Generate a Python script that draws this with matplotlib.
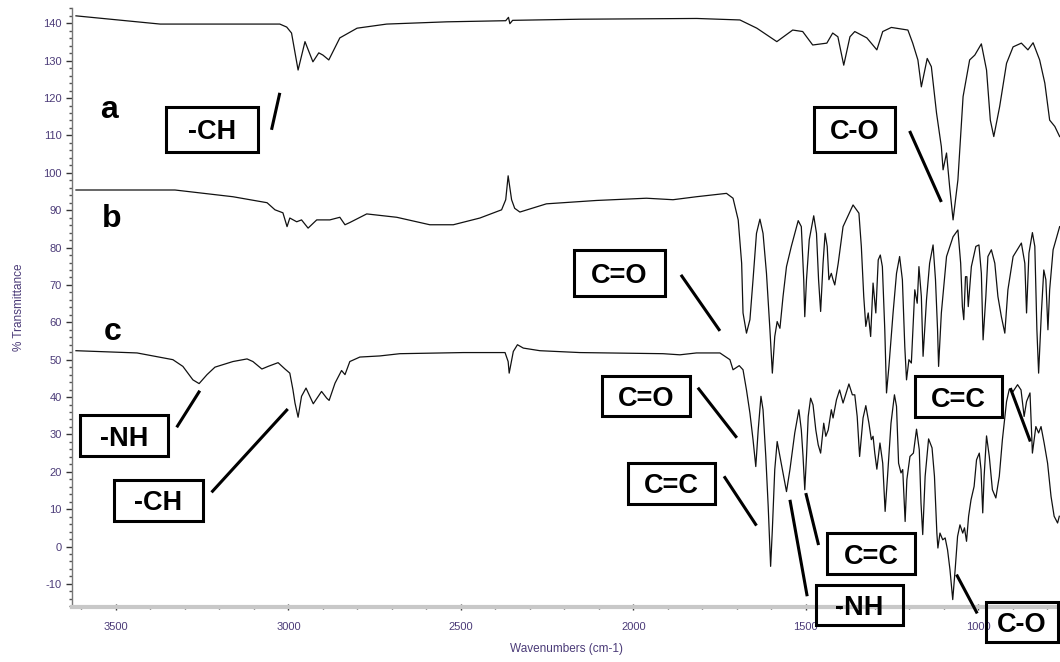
import matplotlib
matplotlib.use("Agg")
import matplotlib.pyplot as plt
from matplotlib.patches import Rectangle
from matplotlib.ticker import MultipleLocator

plt.rcParams['font.family'] = ['Liberation Sans', 'DejaVu Sans']
plt.rcParams['axes.unicode_minus'] = False

# spectrum a (top)
wn_a = [3616, 3372, 3025, 3005, 2991, 2972, 2952, 2929, 2912, 2900,
        2883, 2851, 2801, 2715, 2541, 2370, 2362, 2358, 2350, 2155,
        1816, 1691, 1642, 1584, 1538, 1509, 1480, 1439, 1422, 1407,
        1390, 1372, 1358, 1323, 1294, 1277, 1252, 1204, 1190, 1175,
        1165, 1148, 1136, 1121, 1107, 1102, 1092, 1083, 1073, 1059,
        1044, 1025, 1010, 991, 976, 965, 955, 938, 918, 899,
        875, 856, 841, 822, 807, 793, 778, 764]
t_a = [142.0, 139.8, 139.8, 139.0, 137.4, 127.5, 135.1, 129.7, 132.1, 131.5,
       130.2, 136.1, 138.7, 139.8, 140.4, 140.7, 141.6, 139.9, 140.8, 141.1,
       141.3, 140.9, 138.7, 135.1, 138.2, 137.8, 134.2, 134.7, 137.4, 136.4,
       128.8, 136.4, 137.8, 136.1, 132.9, 137.8, 138.9, 138.2, 134.7, 130.2,
       123.0, 130.6, 128.4, 116.0, 107.0, 100.8, 105.3, 96.3, 87.4, 98.1,
       120.4, 130.2, 131.5, 134.5, 127.5, 114.1, 109.7, 117.7, 129.3, 133.7,
       134.7, 132.9, 134.8, 130.2, 124.0, 114.1, 112.4, 109.7]

# spectrum b (middle)
wn_b = [3616, 3329, 3161, 3062, 3039, 3016, 3004, 2996, 2976, 2962,
        2943, 2918, 2880, 2851, 2836, 2822, 2773, 2686, 2590, 2522,
        2445, 2382, 2370, 2363, 2353, 2344, 2329, 2252, 2107, 1962,
        1885, 1817, 1730, 1711, 1696, 1686, 1682, 1672, 1662, 1653,
        1643, 1633, 1624, 1614, 1604, 1597, 1590, 1583, 1575, 1566,
        1556, 1542, 1522, 1513, 1506, 1503, 1498, 1490, 1477, 1469,
        1463, 1457, 1450, 1444, 1438, 1433, 1426, 1421, 1416, 1406,
        1392, 1363, 1346, 1339, 1332, 1326, 1319, 1312, 1305, 1297,
        1290, 1284, 1278, 1271, 1266, 1259, 1247, 1237, 1228, 1220,
        1213, 1208, 1201, 1194, 1184, 1177, 1172, 1165, 1160, 1150,
        1141, 1131, 1124, 1118, 1115, 1107, 1092, 1073, 1059, 1051,
        1046, 1042, 1037, 1033, 1029, 1020, 1007, 998, 991, 986,
        978, 972, 962, 952, 943, 933, 923, 914, 899, 875,
        865, 860, 853, 843, 836, 830, 825, 817, 810, 804,
        798, 793, 783, 764]
t_b = [95.4, 95.4, 93.6, 92.0, 90.1, 89.3, 85.6, 87.9, 86.9, 87.4,
       85.2, 87.4, 87.4, 88.1, 86.1, 86.7, 89.0, 88.1, 86.1, 86.1,
       87.9, 90.1, 92.8, 99.2, 92.8, 90.5, 89.5, 91.7, 92.6, 93.2,
       92.8, 93.6, 94.5, 93.2, 87.4, 75.8, 62.5, 57.1, 60.7, 71.4,
       83.8, 87.6, 83.8, 73.1, 58.0, 46.4, 56.2, 60.2, 58.4, 66.9,
       74.9, 80.3, 87.2, 85.6, 71.4, 61.5, 71.4, 82.1, 88.5, 83.8,
       71.4, 62.9, 75.8, 83.8, 80.3, 71.4, 73.1, 71.4, 70.0, 75.8,
       85.6, 91.4, 89.2, 80.3, 66.9, 58.9, 62.5, 56.2, 70.5, 62.5,
       76.7, 78.0, 74.9, 58.0, 41.1, 48.2, 62.5, 73.1, 77.6, 71.4,
       53.5, 44.6, 50.0, 49.1, 68.7, 65.1, 74.9, 66.9, 50.9, 66.1,
       75.8, 80.7, 71.4, 58.0, 48.2, 62.5, 77.6, 82.9, 84.7, 75.8,
       64.2, 60.7, 72.2, 72.2, 64.2, 74.9, 80.3, 80.7, 73.1, 55.3,
       66.9, 77.6, 79.4, 75.8, 66.9, 61.5, 57.1, 68.7, 77.6, 81.2,
       75.8, 62.5, 78.5, 84.0, 80.3, 58.0, 46.4, 62.5, 74.0, 71.4,
       58.0, 68.7, 79.4, 85.6]

# spectrum c (bottom)
wn_c = [3616, 3439, 3335, 3306, 3277, 3259, 3236, 3213, 3161, 3120,
        3103, 3077, 3059, 3030, 3010, 2996, 2987, 2981, 2972, 2962,
        2949, 2928, 2904, 2889, 2882, 2865, 2846, 2836, 2822, 2793,
        2735, 2677, 2493, 2372, 2363, 2360, 2348, 2336, 2319, 2271,
        2155, 1914, 1865, 1817, 1749, 1720, 1711, 1693, 1682, 1672,
        1662, 1653, 1645, 1638, 1630, 1624, 1616, 1609, 1602, 1597,
        1590, 1583, 1575, 1568, 1556, 1546, 1532, 1520, 1513, 1508,
        1503, 1498, 1493, 1486, 1479, 1471, 1464, 1457, 1448, 1442,
        1435, 1426, 1421, 1411, 1402, 1392, 1375, 1365, 1358, 1351,
        1344, 1334, 1326, 1317, 1310, 1305, 1300, 1294, 1285, 1277,
        1270, 1263, 1253, 1243, 1237, 1231, 1224, 1219, 1212, 1207,
        1198, 1188, 1179, 1171, 1166, 1161, 1154, 1144, 1134, 1127,
        1120, 1117, 1111, 1103, 1096, 1089, 1082, 1074, 1067, 1060,
        1053, 1045, 1040, 1034, 1028, 1021, 1012, 1005, 997, 992,
        987, 983, 976, 968, 959, 949, 939, 930, 918, 910,
        899, 886, 876, 867, 860, 850, 843, 833, 825, 818,
        809, 799, 789, 780, 770, 765]
t_c = [52.4, 51.8, 50.0, 48.2, 44.6, 43.6, 46.0, 48.0, 49.5, 50.2,
       49.5, 47.5, 48.2, 49.2, 47.5, 46.4, 42.0, 38.4, 34.6, 40.2,
       42.4, 38.2, 41.5, 39.7, 39.1, 43.7, 47.1, 46.0, 49.5, 50.7,
       51.0, 51.6, 51.9, 51.9, 49.5, 46.4, 52.2, 54.0, 53.1, 52.4,
       51.9, 51.6, 51.3, 51.8, 51.8, 50.0, 47.3, 48.4, 47.3, 41.9,
       35.7, 28.6, 21.4, 31.2, 40.2, 36.6, 24.1, 10.7, -5.3, 4.5,
       20.6, 28.1, 24.1, 20.6, 14.7, 20.6, 30.4, 36.6, 31.2, 24.1,
       15.2, 24.1, 34.8, 39.7, 37.9, 31.2, 27.2, 25.0, 33.0, 29.5,
       31.2, 36.6, 34.4, 39.3, 41.9, 38.4, 43.5, 40.6, 40.6, 34.8,
       24.1, 34.4, 37.7, 33.0, 28.6, 29.5, 25.0, 20.7, 27.7, 22.3,
       9.4, 18.8, 33.0, 40.6, 37.5, 22.3, 19.7, 20.6, 6.7, 17.9,
       24.1, 25.0, 31.4, 25.9, 11.6, 3.2, 18.8, 28.8, 26.4, 18.8,
       3.6, -0.4, 3.6, 1.8, 2.3, -0.9, -6.2, -14.2, -6.2, 2.7,
       5.8, 3.6, 5.0, 1.4, 8.1, 12.5, 16.1, 23.2, 25.0, 20.6,
       9.0, 18.8, 29.6, 24.1, 15.2, 13.0, 18.8, 28.6, 38.8, 42.1,
       41.5, 43.3, 41.9, 34.8, 38.8, 41.1, 25.0, 32.1, 30.4, 32.1,
       27.7, 22.3, 13.4, 8.1, 6.3, 8.1]

sample_names = ['a', 'b', 'c']
band_names = ['-CH', 'C-O', 'C=O', 'C=O', 'C=C', 'C=C', '-NH', 'C-O', 'C=C', '-NH', '-CH']

tick_color = '#4b3b78'

fig = plt.figure(figsize=(10.6, 6.62), dpi=100)
ax = fig.add_axes([72 / 1060, 55.3 / 662, 1 - 72 / 1060, 598.7 / 662])

for x, y in [(wn_a, t_a), (wn_b, t_b), (wn_c, t_c)]:
    ax.plot(x, y, color='#111111', lw=0.9)

ax.set_xlim(3627.5, 763)
ax.set_ylim(-16.1, 144.1)

ax.xaxis.set_major_locator(MultipleLocator(500))
ax.xaxis.set_minor_locator(MultipleLocator(100))
ax.yaxis.set_major_locator(MultipleLocator(10))
ax.yaxis.set_minor_locator(MultipleLocator(2))
ax.tick_params(axis='both', which='major', labelsize=8, labelcolor=tick_color,
               color='#333333', length=4, width=1)
ax.tick_params(axis='x', which='both', direction='inout', pad=9)
ax.tick_params(axis='y', which='minor', length=2, width=1, color='#555555')
ax.tick_params(axis='x', which='minor', length=3, width=1, color='#333333')

for s in ['top', 'right']:
    ax.spines[s].set_visible(False)
ax.spines['left'].set_color('#777777')
ax.spines['left'].set_linewidth(1)
ax.spines['bottom'].set_color('#c8c8c8')
ax.spines['bottom'].set_linewidth(3)

ax.set_xlabel('Wavenumbers (cm-1)', fontsize=8.5, color=tick_color, labelpad=8)
ax.set_ylabel('% Transmittance', fontsize=8.5, color=tick_color, labelpad=13)

# sample letters
for name, (x, y) in zip(sample_names, [(3546, 114.7), (3540, 85.6), (3536, 55.3)]):
    ax.text(x, y, name, fontsize=23, fontweight='bold', ha='left', va='baseline')

# boxed band labels: centre (wn, %T), box size, leader line
boxes = [
    ((3222, 111.6), (267, 12.0), ((3049, 111.5), (3025, 121.4))),
    ((1359, 111.6), (235, 12.0), ((1199, 111.2), (1107, 92.2))),
    ((2040, 73.3), (264, 12.3), ((1862, 72.7), (1749, 57.7))),
    ((1964, 40.4), (255, 10.7), ((1813, 42.5), (1700, 29.1))),
    ((1890, 16.9), (252, 10.8), ((1737, 18.8), (1643, 5.6))),
    ((1310, -1.9), (256, 10.9), ((1500, 14.3), (1463, 0.4))),
    ((1345, -15.6), (253, 10.7), ((1546, 12.5), (1496, -13.3))),
    ((873, -20.1), (207, 10.7), ((1063, -7.5), (1003, -17.9))),
    ((1057, 40.1), (254, 10.9), ((907, 42.4), (849, 28.1))),
    ((3476, 29.6), (256, 11.0), ((3324, 31.9), (3257, 41.7))),
    ((3377, 12.4), (256, 11.0), ((3223, 14.5), (3002, 36.8))),
]
for label, ((cx, cy), (w, h), (p0, p1)) in zip(band_names, boxes):
    ax.add_patch(Rectangle((cx - w / 2, cy - h / 2), w, h, fill=False,
                           edgecolor='black', lw=2.2, clip_on=False, zorder=4))
    ax.text(cx, cy, label, fontsize=19.5, fontweight='bold', ha='center',
            va='center_baseline', zorder=5, clip_on=False)
    ax.plot([p0[0], p1[0]], [p0[1], p1[1]], color='black', lw=2.2,
            solid_capstyle='butt', clip_on=False, zorder=4)

fig.savefig('out.png', dpi=100)
